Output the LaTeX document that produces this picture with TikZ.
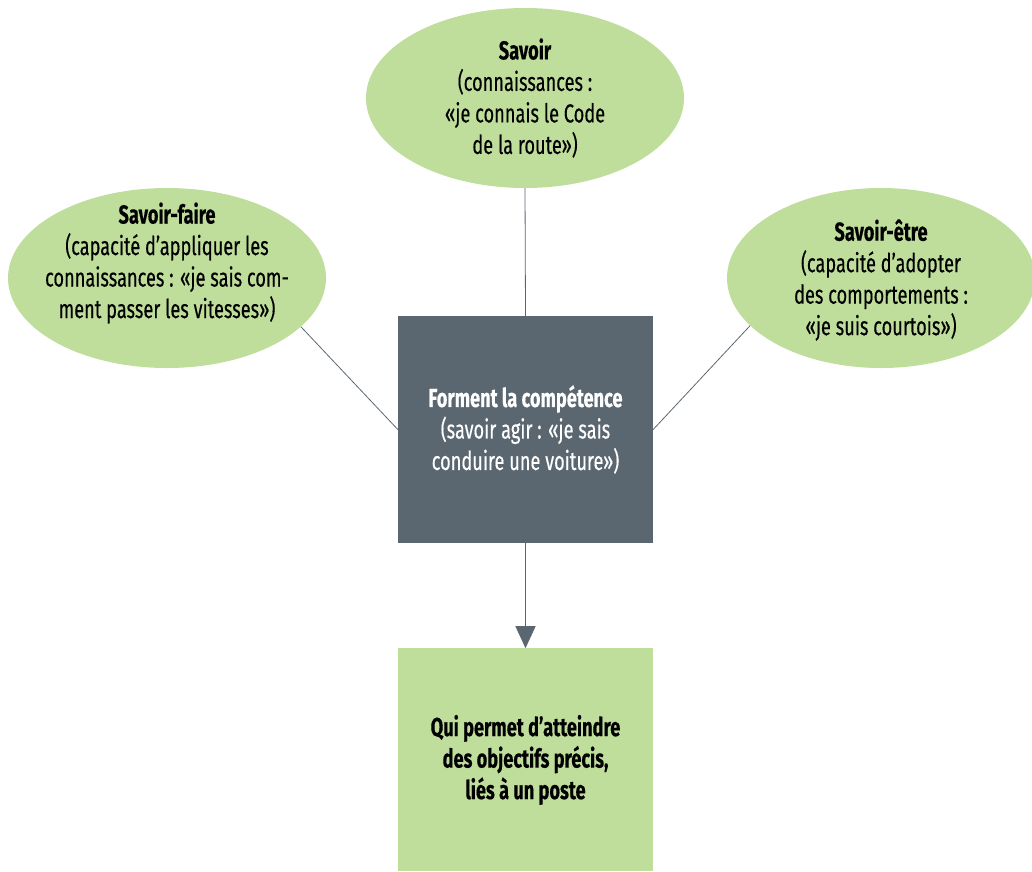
\documentclass[tikz,border=0pt]{standalone}
\usepackage{fontspec}
\setmainfont{Fira Sans}[FakeStretch=0.70, FakeBold=0.35]
\usepackage{xcolor}
\usetikzlibrary{shapes.geometric, arrows.meta, positioning}
\definecolor{leaf}{RGB}{191,221,155}
\definecolor{slate}{RGB}{91,103,112}

\begin{document}
\begin{tikzpicture}[x=1pt, y=-1pt, node distance=105pt,
    bubble/.style={ellipse, fill=leaf, inner sep=0pt, minimum width=318pt, minimum height=180pt},
    bubbletext/.style={align=center, inner sep=0pt, font=\fontsize{26}{31.5}\selectfont},
    block/.style={rectangle, inner sep=0pt, minimum width=255pt, align=center, font=\fontsize{26}{31.5}\selectfont},
    link/.style={draw=slate, line width=0.8pt}]

    \useasboundingbox (0,0) rectangle (1032,871);

    \node[bubble, label={[bubbletext]center:{\textbf{Savoir}\\(connaissances :\\«je connais le Code\\de la route»)}}] (savoir) at (525,98) {};
    \node[bubble, label={[bubbletext, yshift=15pt]center:{\textbf{Savoir-faire}\\(capacité d’appliquer les\\connaissances : «je sais com-\\ment passer les vitesses»)}}] (faire) at (167,278) {};
    \node[bubble, minimum width=308pt, label={[bubbletext, yshift=-2pt]center:{\textbf{Savoir-être}\\(capacité d’adopter\\des comportements :\\«je suis courtois»)}}] (etre) at (881,278) {};

    \node[block, fill=slate, text=white, minimum height=227pt] (comp) at (525.5,429.5) {\textbf{Forment la compétence}\\(savoir agir : «je sais\\conduire une voiture»)};
    \node[block, fill=leaf, minimum height=223pt, below=of comp] (poste) {\textbf{Qui permet d’atteindre}\\\textbf{des objectifs précis,}\\\textbf{liés à un poste}};

    \draw[link] (savoir.south) -- (comp.north);
    \draw[link] (faire.-20) -- (comp.west);
    \draw[link] (etre.-160) -- (comp.east);
    \draw[link, line width=1.4pt, -{Triangle[length=22pt, width=20pt]}] (comp.south) -- (poste.north);
\end{tikzpicture}
\end{document}
